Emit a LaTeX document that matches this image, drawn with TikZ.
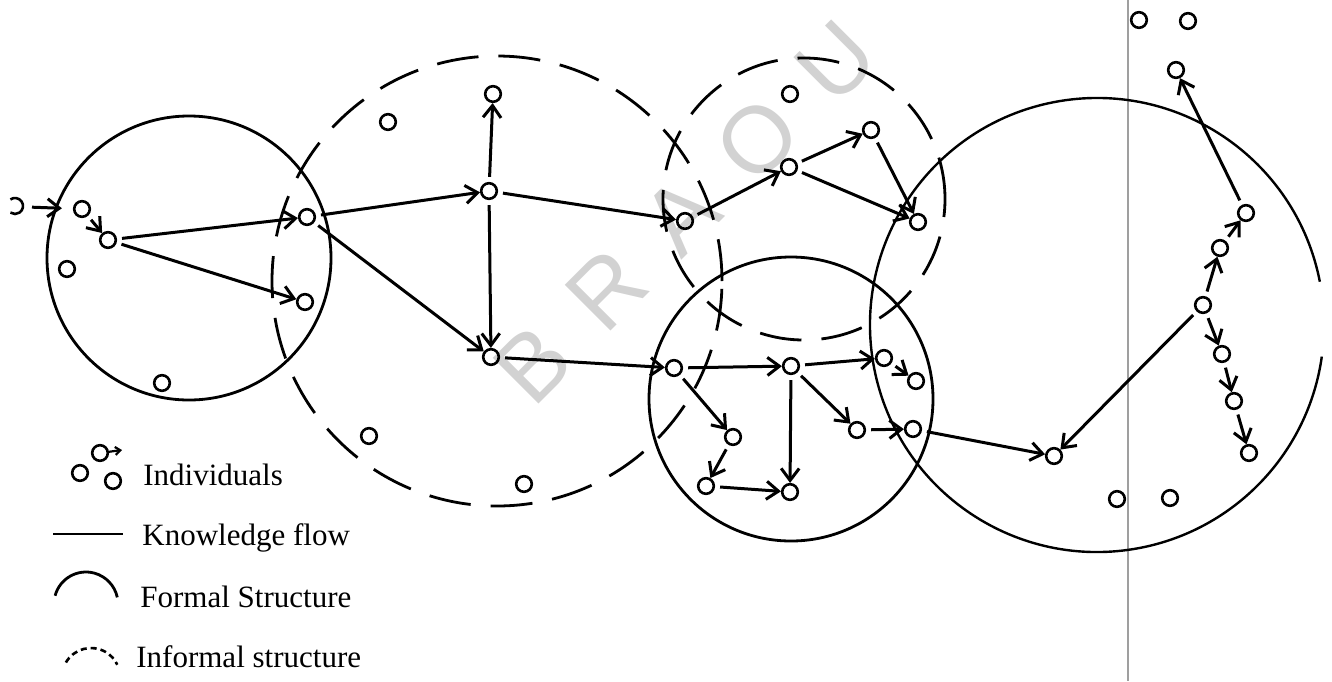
\documentclass[tikz,border=0pt]{standalone}
\usepackage{fontspec}
\setmainfont{Liberation Serif}
\newfontfamily\wmfont{Liberation Sans}
\usetikzlibrary{arrows.meta}
\begin{document}
\begin{tikzpicture}[x=0.5pt,y=-0.5pt,
  ind/.style={circle, draw, line width=1.3pt, minimum size=7.8pt, inner sep=0pt},
  flow/.style={line width=1.5pt, -{Straight Barb[length=6pt,width=9pt]}, shorten <=2.5pt},
  formal/.style={line width=1.4pt},
  informal/.style={line width=1.4pt, dash pattern=on 21pt off 10pt},
  wm/.style={text=gray!35, font=\wmfont\fontsize{47}{47}\selectfont, rotate=45, inner sep=0pt},
  lbl/.style={anchor=base west, inner sep=0pt, font=\fontsize{15.5}{18}\selectfont}]
\useasboundingbox (0,0) rectangle (1332,681);
% watermark
\node[wm] (wmark) at (685,212) {B\hspace{19.9pt}R\hspace{19.9pt}A\hspace{19.9pt}O\hspace{19.9pt}U};
% vertical rule
\draw[gray!75, line width=0.9pt] (1128,0) -- (1128,681);
% structures
\coordinate (c1) at (189,258);
\coordinate (c2) at (497,281);
\coordinate (c3) at (804,199);
\coordinate (c4) at (791,399);
\coordinate (c5) at (1097,325);
\draw[formal] (c1) circle[radius=71pt];
\draw[informal] (c2) circle[radius=112.5pt];
\draw[informal] (c3) circle[radius=70.5pt];
\draw[formal] (c4) circle[radius=71pt];
\draw[formal, line width=1.2pt] (c5) ++(11:113.5pt) arc[start angle=11, end angle=352, radius=113.5pt];
% individuals
\draw[line width=1.3pt] (15,206) ++(125:4pt) arc[start angle=125, end angle=-125, radius=4pt];
\coordinate (p0) at (27,207);
\node[ind] (n1) at (82,209) {};
\node[ind] (n2) at (108,240) {};
\node[ind] (n3) at (67,269) {};
\node[ind] (n4) at (162,383) {};
\node[ind] (n5) at (307,217) {};
\node[ind] (n6) at (305,302) {};
\node[ind] (a1) at (388,122) {};
\node[ind] (a2) at (493,94) {};
\node[ind] (a3) at (489,191) {};
\node[ind] (a4) at (491,357) {};
\node[ind] (a5) at (369,436) {};
\node[ind] (a6) at (524,484) {};
\node[ind] (b1) at (685,221) {};
\node[ind] (b2) at (790,94) {};
\node[ind] (b3) at (789,167) {};
\node[ind] (b4) at (871,130) {};
\node[ind] (b5) at (918,222) {};
\node[ind] (d1) at (674,368) {};
\node[ind] (d2) at (791,366) {};
\node[ind] (d3) at (733,437) {};
\node[ind] (d4) at (706,486) {};
\node[ind] (d5) at (790,492) {};
\node[ind] (d6) at (884,358) {};
\node[ind] (d7) at (916,381) {};
\node[ind] (d8) at (857,430) {};
\node[ind] (d9) at (913,429) {};
\node[ind] (r1) at (1054,456) {};
\node[ind] (r0) at (1203,305) {};
\node[ind] (r2) at (1220,248) {};
\node[ind] (r3) at (1246,213) {};
\node[ind] (r4) at (1176,70) {};
\node[ind] (r5) at (1222,354) {};
\node[ind] (r6) at (1234,401) {};
\node[ind] (r7) at (1249,453) {};
\node[ind] (t1) at (1139,20) {};
\node[ind] (t2) at (1188,21) {};
\node[ind] (s1) at (1117,499) {};
\node[ind] (s2) at (1170,498) {};
% knowledge flows
\draw[flow, shorten >=5.5pt] (p0) -- (n1);
\draw[flow] (n1) -- (n2);
\draw[flow] (n2) -- (n5);
\draw[flow] (n2) -- (n6);
\draw[flow] (n5) -- (a3);
\draw[flow] (n5) -- (a4);
\draw[flow] (a3) -- (a2);
\draw[flow] (a3) -- (a4);
\draw[flow] (a3) -- (b1);
\draw[flow] (a4) -- (d1);
\draw[flow] (b1) -- (b3);
\draw[flow] (b3) -- (b4);
\draw[flow] (b4) -- (b5);
\draw[flow] (b3) -- (b5);
\draw[flow] (d1) -- (d2);
\draw[flow] (d1) -- (d3);
\draw[flow] (d3) -- (d4);
\draw[flow] (d4) -- (d5);
\draw[flow] (d2) -- (d5);
\draw[flow] (d2) -- (d6);
\draw[flow] (d6) -- (d7);
\draw[flow] (d2) -- (d8);
\draw[flow] (d8) -- (d9);
\draw[flow] (d9) -- (r1);
\draw[flow] (r0) -- (r1);
\draw[flow] (r0) -- (r2);
\draw[flow] (r2) -- (r3);
\draw[flow] (r3) -- (r4);
\draw[flow] (r0) -- (r5);
\draw[flow] (r5) -- (r6);
\draw[flow] (r6) -- (r7);
% legend
\node[ind] (l1) at (100,453) {};
\node[ind] (l2) at (80,473) {};
\node[ind] (l3) at (113,481) {};
\coordinate (l1t) at (122,450);
\draw[line width=1.1pt, -{Straight Barb[length=2.5pt,width=4pt]}] (l1) -- (l1t);
\node[lbl] (t_ind) at (143,485) {Individuals};
\coordinate (kf1) at (53,534);
\coordinate (kf2) at (123,534);
\draw[line width=1.4pt] (kf1) -- (kf2);
\node[lbl] (t_kf) at (142,545) {Knowledge flow};
\coordinate (fs) at (86,604);
\draw[formal] (fs) ++(165:16pt) arc[start angle=165, end angle=12, radius=16pt];
\node[lbl] (t_fs) at (140,607) {Formal Structure};
\coordinate (is) at (91,677);
\draw[line width=1.3pt, dash pattern=on 3pt off 2pt] (is) ++(150:14.5pt) arc[start angle=150, end angle=25, radius=14.5pt];
\node[lbl] (t_is) at (136,667) {Informal structure};
\end{tikzpicture}
\end{document}
